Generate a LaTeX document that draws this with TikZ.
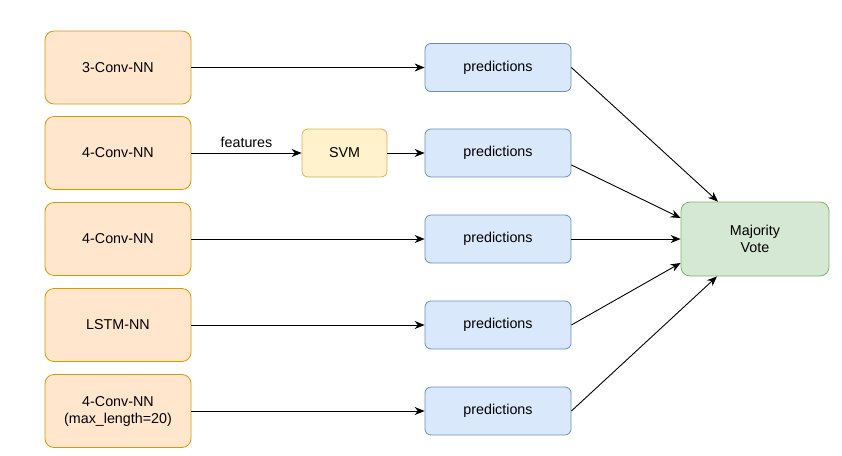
\documentclass[tikz,border=0pt]{standalone}
\usepackage{fontspec}
\setmainfont{Liberation Sans}
\usetikzlibrary{arrows.meta}
\definecolor{netfill}{HTML}{FFE6CC}
\definecolor{netline}{HTML}{D79B00}
\definecolor{predfill}{HTML}{DAE8FC}
\definecolor{predline}{HTML}{6C8EBF}
\definecolor{svmfill}{HTML}{FFF2CC}
\definecolor{svmline}{HTML}{D6B656}
\definecolor{votefill}{HTML}{D5E8D4}
\definecolor{voteline}{HTML}{82B366}
\tikzset{
  netbox/.style={draw=netline,fill=netfill,rounded corners=9pt,minimum width=146pt,minimum height=73pt,align=center},
  predbox/.style={draw=predline,fill=predfill,rounded corners=6pt,minimum width=146pt,minimum height=48pt},
  svmbox/.style={draw=svmline,fill=svmfill,rounded corners=6pt,minimum width=85pt,minimum height=48pt},
  votebox/.style={draw=voteline,fill=votefill,rounded corners=9pt,minimum width=148pt,minimum height=74pt,align=center},
  link/.style={-{Stealth[length=10pt,width=8pt]},line width=0.9pt}
}

\begin{document}
\begin{tikzpicture}[x=1pt,y=-1pt,font=\fontsize{14.3}{17}\selectfont,line width=0.8pt]
  \useasboundingbox (0,0) rectangle (842,455);

  % networks
  \node[netbox] (n1) at (118,67.5) {3-Conv-NN};
  \node[netbox] (n2) at (118,153) {4-Conv-NN};
  \node[netbox] (n3) at (118,239) {4-Conv-NN};
  \node[netbox] (n4) at (118,325) {LSTM-NN};
  \node[netbox] (n5) at (118,411) {4-Conv-NN\\(max\_length=20)};

  % svm
  \node[svmbox] (svm) at (344.5,153) {SVM};

  % predictions
  \node[predbox] (p1) at (498,67.5) {predictions};
  \node[predbox] (p2) at (498,153) {predictions};
  \node[predbox] (p3) at (498,239) {predictions};
  \node[predbox] (p4) at (498,325) {predictions};
  \node[predbox] (p5) at (498,411) {predictions};

  % vote
  \node[votebox] (mv) at (755,239) {Majority\\Vote};

  \draw[link] (n1) -- (p1);
  \draw[link] (n2) -- node[above=2pt] {features} (svm);
  \draw[link] (svm) -- (p2);
  \draw[link] (n3) -- (p3);
  \draw[link] (n4) -- (p4);
  \draw[link] (n5) -- (p5);

  \coordinate (mvtop) at ([xshift=-37pt]mv.north);
  \coordinate (mvbot) at ([xshift=-38pt]mv.south);
  \draw[link] (p1.east) -- (mvtop);
  \draw[link] ([yshift=-12pt]p2.east) -- ([yshift=21pt]mv.west);
  \draw[link] (p3) -- (mv);
  \draw[link] (p4.east) -- ([yshift=-24pt]mv.west);
  \draw[link] (p5.east) -- (mvbot);
\end{tikzpicture}
\end{document}
